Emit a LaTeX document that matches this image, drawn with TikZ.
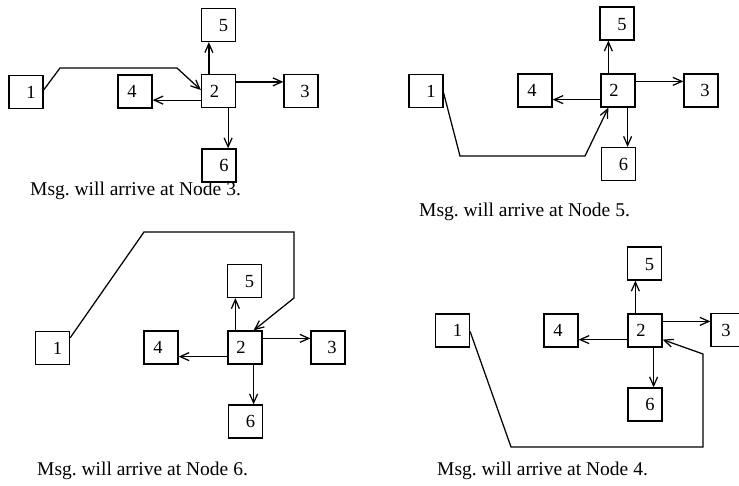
\documentclass[tikz,border=0pt]{standalone}
\usepackage{fontspec}
\setmainfont{Liberation Serif}
\usetikzlibrary{arrows.meta,calc}
\frenchspacing
\begin{document}
\begin{tikzpicture}[x=1pt,y=-1pt,
  bx/.style={draw,line width=1.25pt,minimum width=34pt,minimum height=33pt,inner sep=0pt},
  dg/.style={font=\fontsize{18.5}{20}\selectfont,inner sep=0pt},
  arr/.style={line width=1.25pt,-{Straight Barb[length=9pt,width=8pt]}},
  captext/.style={anchor=base west,inner sep=0pt,font=\fontsize{19.5}{22}\selectfont}]
\useasboundingbox (0,0) rectangle (739,485);
\clip (0,0) rectangle (739,485);

% ---------- Panel 1 ----------
\node[bx,label={[dg,xshift=5pt]center:1}] (A1) at (26,92) {};
\node[bx,label={[dg,xshift=-3pt]center:4}] (A4) at (135,91.5) {};
\node[bx,label={[dg,xshift=-4pt]center:2}] (A2) at (218.5,91) {};
\node[bx,label={[dg,xshift=4pt]center:3}] (A3) at (301,91) {};
\node[bx,label={[dg,xshift=5pt,yshift=-1pt]center:5}] (A5) at (218.5,25) {};
\node[bx,label={[dg,xshift=5pt]center:6}] (A6) at (219,165.5) {};
\coordinate (Au) at ([xshift=8pt]A2.north west);
\coordinate (Ar) at ([yshift=-8pt]A2.north east);
\coordinate (Al) at ([yshift=8pt]A2.south west);
\coordinate (Ad) at ([xshift=-8pt]A2.south east);
\draw[arr] (Au) -- (Au |- A5.south);
\draw[arr] (Ar) -- (Ar -| A3.west);
\draw[arr] (Al) -- (Al -| A4.east);
\draw[arr] (Ad) -- (Ad |- A6.north);
\coordinate (Ab1) at (60,68);
\coordinate (Ab2) at (177,68);
\draw[arr] ([yshift=2pt]A1.east) -- (Ab1) -- (Ab2) -- ([yshift=1pt]A2.west);
\node[captext] (Acap) at (30,195) {Msg. will arrive at Node 3.};

% ---------- Panel 2 ----------
\node[bx,label={[dg,xshift=5pt]center:1}] (B1) at (426,91) {};
\node[bx,label={[dg,xshift=-3pt]center:4}] (B4) at (535,90.5) {};
\node[bx,label={[dg,xshift=-4pt]center:2}] (B2) at (618,90.5) {};
\node[bx,label={[dg,xshift=4pt]center:3}] (B3) at (701,90.5) {};
\node[bx,label={[dg,xshift=5pt,yshift=-1pt]center:5}] (B5) at (617,23.5) {};
\node[bx,label={[dg,xshift=5pt]center:6}] (B6) at (618.5,164) {};
\coordinate (Bu) at ([xshift=8pt]B2.north west);
\coordinate (Br) at ([yshift=-8pt]B2.north east);
\coordinate (Bl) at ([yshift=8pt]B2.south west);
\coordinate (Bd) at ([xshift=-8pt]B2.south east);
\draw[arr] (Bu) -- (Bu |- B5.south);
\draw[arr] (Br) -- (Br -| B3.west);
\draw[arr] (Bl) -- (Bl -| B4.east);
\draw[arr] (Bd) -- (Bd |- B6.north);
\coordinate (Bb1) at (460,156);
\coordinate (Bb2) at (585,156);
\draw[arr] ([yshift=-2pt]B1.east) -- (Bb1) -- (Bb2) -- ([xshift=8pt]B2.south west);
\node[captext] (Bcap) at (419,216) {Msg. will arrive at Node 5.};

% ---------- Panel 3 ----------
\node[bx,label={[dg,xshift=5pt]center:1}] (C1) at (52.5,348) {};
\node[bx,label={[dg,xshift=-3pt]center:4}] (C4) at (161,347.5) {};
\node[bx,label={[dg,xshift=-4pt]center:2}] (C2) at (245,347.5) {};
\node[bx,label={[dg,xshift=4pt]center:3}] (C3) at (328,347.5) {};
\node[bx,label={[dg,xshift=5pt,yshift=-1pt]center:5}] (C5) at (244.5,281) {};
\node[bx,label={[dg,xshift=5pt]center:6}] (C6) at (245.5,421.5) {};
\coordinate (Cu) at ([xshift=8pt]C2.north west);
\coordinate (Cr) at ([yshift=-8pt]C2.north east);
\coordinate (Cl) at ([yshift=8pt]C2.south west);
\coordinate (Cd) at ([xshift=-9pt]C2.south east);
\draw[arr] (Cu) -- (Cu |- C5.south);
\draw[arr] (Cr) -- (Cr -| C3.west);
\draw[arr] (Cl) -- (Cl -| C4.east);
\draw[arr] (Cd) -- (Cd |- C6.north);
\coordinate (Cb1) at (144,232);
\coordinate (Cb2) at (294,232);
\coordinate (Cb3) at (294,298);
\draw[arr] ([yshift=-7pt]C1.north east) -- (Cb1) -- (Cb2) -- (Cb3) -- ([xshift=-9pt]C2.north east);
\node[captext] (Ccap) at (37,475) {Msg. will arrive at Node 6.};

% ---------- Panel 4 ----------
\node[bx,label={[dg,xshift=5pt]center:1}] (D1) at (452.5,330.5) {};
\node[bx,label={[dg,xshift=-3pt]center:4}] (D4) at (561,330.5) {};
\node[bx,label={[dg,xshift=-4pt]center:2}] (D2) at (645,330.5) {};
\node[bx,label={[dg,xshift=-2pt]center:3}] (D3) at (728,330) {};
\node[bx,label={[dg,xshift=5pt,yshift=-1pt]center:5}] (D5) at (644.5,263.5) {};
\node[bx,label={[dg,xshift=5pt]center:6}] (D6) at (645,404.5) {};
\coordinate (Du) at ([xshift=8pt]D2.north west);
\coordinate (Dr) at ([yshift=-8pt]D2.north east);
\coordinate (Dl) at ([yshift=8pt]D2.south west);
\coordinate (Dd) at ([xshift=-9pt]D2.south east);
\draw[arr] (Du) -- (Du |- D5.south);
\draw[arr] (Dr) -- (Dr -| D3.west);
\draw[arr] (Dl) -- (Dl -| D4.east);
\draw[arr] (Dd) -- (Dd |- D6.north);
\coordinate (Db1) at (511,447);
\coordinate (Db2) at (703,447);
\coordinate (Db3) at (703,354);
\draw[arr] ([yshift=-1pt]D1.east) -- (Db1) -- (Db2) -- (Db3) -- ([yshift=8pt]D2.south east);
\node[captext] (Dcap) at (437,475) {Msg. will arrive at Node 4.};
\end{tikzpicture}
\end{document}
